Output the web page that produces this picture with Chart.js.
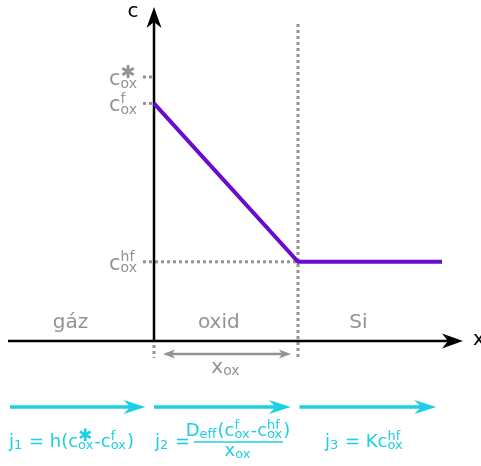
<!DOCTYPE html>
<html>
<head>
<meta charset="utf-8">
<script src="https://cdn.jsdelivr.net/npm/chart.js@4.4.0/dist/chart.umd.min.js"></script>
<style>
  html, body { margin: 0; padding: 0; background: #fff; }
</style>
</head>
<body>
<canvas id="graph" width="481" height="466"></canvas>
<script>
// x in units of oxide thickness: 0 = gas/oxide interface, 1 = oxide/Si interface
const profileX = [0, 1, 2];
const profileC = [0.9, 0.3, 0.3];

// concentrations marked on the c axis (c*, c^f, c^hf)
const levelSups = ['\u2731', 'f', 'hf'];
const levelValues = [1.0, 0.9, 0.3];

const regionLabels = ['gáz', 'oxid', 'Si'];
const regionCenters = [-0.58, 0.45, 1.42];

// flux arrows: start/end in x units
const fluxFrom = [-1.0, 0.0, 1.01];
const fluxTo = [-0.06, 0.95, 1.96];

const FONT = '"DejaVu Sans", sans-serif';
const GREY = '#939393';
const CYAN = '#1ccfe5';
const PURPLE = '#6a0ccd';
const STAR = '\u2731';

function font(size) {
  return size + 'px ' + FONT;
}

// text pieces like {t:'c', sup:'f', sub:'ox'}, sup and sub stacked after t
function pieces(ctx, list, x, y, size, draw, ratio) {
  const small = Math.round(size * (ratio || 0.72));
  let cx = x;
  for (const p of list) {
    ctx.font = font(size);
    if (draw) ctx.fillText(p.t, cx, y);
    cx += ctx.measureText(p.t).width;
    if (p.sup || p.sub) {
      let w = 0;
      if (p.sup) {
        // the asterisk is drawn a bit larger than other superscripts
        ctx.font = font(p.sup === STAR ? Math.round(small * 1.3) : small);
        if (draw) ctx.fillText(p.sup, cx, y - size * (p.sup === STAR ? 0.33 : 0.4));
        w = Math.max(w, ctx.measureText(p.sup).width);
      }
      if (p.sub) {
        ctx.font = font(small);
        if (draw) ctx.fillText(p.sub, cx, y + size * 0.12);
        w = Math.max(w, ctx.measureText(p.sub).width);
      }
      cx += w + 1;
    }
  }
  return cx - x;
}

function line(ctx, x1, y1, x2, y2) {
  ctx.beginPath();
  ctx.moveTo(x1, y1);
  ctx.lineTo(x2, y2);
  ctx.stroke();
}

// swept arrow head pointing along (dx, dy)
function head(ctx, tx, ty, dx, dy, len, half, notch) {
  const px = -dy, py = dx;
  ctx.beginPath();
  ctx.moveTo(tx, ty);
  ctx.lineTo(tx - dx * len + px * half, ty - dy * len + py * half);
  ctx.lineTo(tx - dx * notch, ty - dy * notch);
  ctx.lineTo(tx - dx * len - px * half, ty - dy * len - py * half);
  ctx.closePath();
  ctx.fill();
}

const decorations = {
  id: 'decorations',
  beforeDatasetsDraw(chart) {
    const ctx = chart.ctx;
    const xs = chart.scales.x, ys = chart.scales.y;
    const x0 = xs.getPixelForValue(0);
    const x1 = xs.getPixelForValue(1);
    const y0 = ys.getPixelForValue(0);
    ctx.save();

    // dotted guides
    ctx.strokeStyle = GREY;
    ctx.lineWidth = 3;
    ctx.setLineDash([3, 3]);
    line(ctx, x1, 24, x1, y0 + 17);
    line(ctx, x0, y0 + 4, x0, y0 + 17);
    levelValues.forEach((v, i) => {
      const yy = ys.getPixelForValue(v);
      const end = i === 2 ? x1 : x0 - 2;
      line(ctx, x0 - 11, yy, end, yy);
    });
    ctx.setLineDash([]);

    // axes
    ctx.strokeStyle = '#000';
    ctx.fillStyle = '#000';
    ctx.lineWidth = 2.5;
    line(ctx, 8, y0, 450, y0);
    head(ctx, 463, y0, 1, 0, 21, 7.5, 15);
    line(ctx, x0, y0, x0, 20);
    head(ctx, x0, 7, 0, -1, 21, 7.5, 15);
    ctx.font = font(20);
    ctx.textAlign = 'center';
    ctx.fillText('c', 133, 17);
    ctx.textAlign = 'left';
    ctx.fillText('x', 473, 345);

    // level labels on the c axis
    ctx.fillStyle = GREY;
    levelValues.forEach((v, i) => {
      const yy = ys.getPixelForValue(v);
      const parts = [{ t: 'c', sup: levelSups[i], sub: 'ox' }];
      const w = pieces(ctx, parts, 0, 0, 21, false, 0.68);
      pieces(ctx, parts, x0 - 16 - w, yy + 8, 21, true, 0.68);
    });

    // region names
    ctx.font = font(20);
    ctx.textAlign = 'center';
    regionLabels.forEach((t, i) => {
      ctx.fillText(t, xs.getPixelForValue(regionCenters[i]), y0 - 13);
    });
    ctx.textAlign = 'left';

    // oxide thickness marker
    ctx.strokeStyle = GREY;
    ctx.lineWidth = 2.5;
    line(ctx, x0 + 14, y0 + 13, x1 - 12, y0 + 13);
    head(ctx, x0 + 9, y0 + 13, -1, 0, 12, 4.5, 9);
    head(ctx, x1 - 7, y0 + 13, 1, 0, 12, 4.5, 9);
    const xl = [{ t: 'x', sub: 'ox' }];
    const wl = pieces(ctx, xl, 0, 0, 20, false);
    pieces(ctx, xl, (x0 + x1) / 2 - wl / 2, y0 + 32, 20, true);

    // flux arrows
    ctx.strokeStyle = CYAN;
    ctx.fillStyle = CYAN;
    ctx.lineWidth = 3.5;
    const fy = 407;
    fluxFrom.forEach((f, i) => {
      const a = xs.getPixelForValue(f);
      const b = xs.getPixelForValue(fluxTo[i]);
      line(ctx, a, fy, b - 12, fy);
      head(ctx, b, fy, 1, 0, 22, 7, 15);
    });

    // flux equations
    const eb = 447, es = 18;
    pieces(ctx, [{ t: 'j', sub: '1' }, { t: ' = h(c', sup: STAR, sub: 'ox' },
      { t: '-c', sup: 'f', sub: 'ox' }, { t: ')' }], 9, eb, es, true);

    pieces(ctx, [{ t: 'j', sub: '2' }, { t: ' =' }], 155, eb, es, true);
    const num = [{ t: 'D', sub: 'eff' }, { t: '(c', sup: 'f', sub: 'ox' },
      { t: '-c', sup: 'hf', sub: 'ox' }, { t: ')' }];
    const den = [{ t: 'x', sub: 'ox' }];
    const fc = 238;
    const wn = pieces(ctx, num, 0, 0, es, false);
    const wd = pieces(ctx, den, 0, 0, es, false);
    pieces(ctx, num, fc - wn / 2, 436, es, true);
    pieces(ctx, den, fc - wd / 2, 456, es, true);
    ctx.lineWidth = 1.5;
    line(ctx, 194, 442, 283, 442);

    pieces(ctx, [{ t: 'j', sub: '3' }, { t: ' = Kc', sup: 'hf', sub: 'ox' }], 325, eb, es, true);

    ctx.restore();
  }
};

new Chart(document.getElementById('graph'), {
  type: 'scatter',
  data: {
    datasets: [{
      data: profileX.map((x, i) => ({ x: x, y: profileC[i] })),
      showLine: true,
      borderColor: PURPLE,
      borderWidth: 4,
      pointRadius: 0,
      borderCapStyle: 'butt',
      borderJoinStyle: 'miter',
    }],
  },
  options: {
    responsive: false,
    animation: false,
    devicePixelRatio: 1,
    layout: { padding: 0 },
    plugins: {
      legend: { display: false },
      tooltip: { enabled: false },
    },
    scales: {
      x: { type: 'linear', display: false, min: -154 / 144, max: 327 / 144 },
      y: { type: 'linear', display: false, min: -125 / 264, max: 341 / 264 },
    },
  },
  plugins: [decorations],
});
</script>
</body>
</html>
